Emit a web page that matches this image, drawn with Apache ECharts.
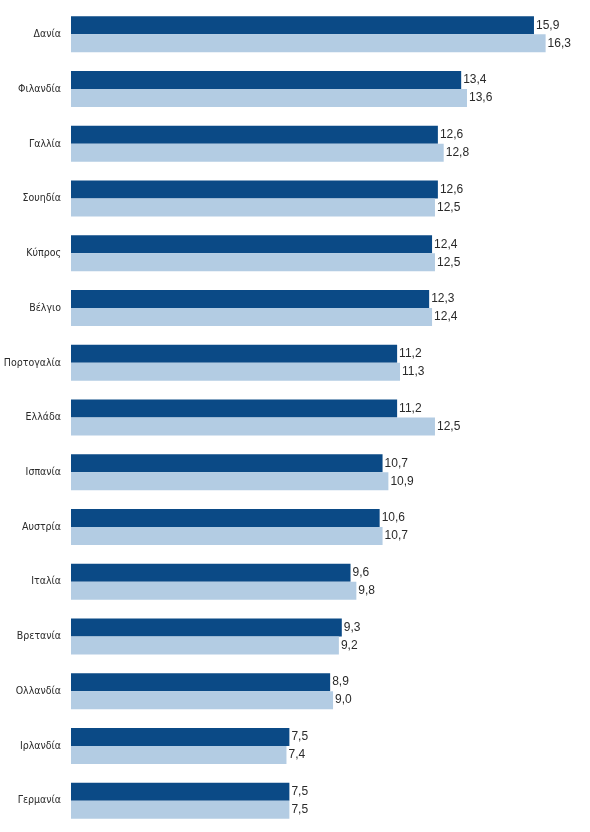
<!DOCTYPE html>
<html>
<head>
<meta charset="utf-8">
<script src="https://cdn.jsdelivr.net/npm/echarts@6/dist/echarts.min.js"></script>
<style>
html,body{margin:0;padding:0;background:#fff;}
#c{width:590px;height:832px;}
</style>
</head>
<body>
<div id="c"></div>
<script>
var categories = ["Δανία","Φιλανδία","Γαλλία","Σουηδία","Κύπρος","Βέλγιο","Πορτογαλία","Ελλάδα","Ισπανία","Αυστρία","Ιταλία","Βρετανία","Ολλανδία","Ιρλανδία","Γερμανία"];
var seriesDark = [15.9,13.4,12.6,12.6,12.4,12.3,11.2,11.2,10.7,10.6,9.6,9.3,8.9,7.5,7.5];
var seriesLight = [16.3,13.6,12.8,12.5,12.5,12.4,11.3,12.5,10.9,10.7,9.8,9.2,9.0,7.4,7.5];

var fmt = function(p){ return p.value.toFixed(1).replace('.', ','); };
var labelStyle = {show:true, position:'right', distance:2, formatter:fmt, fontSize:12, color:'#2a2a2a', fontFamily:'Liberation Sans, Arial, sans-serif'};

var chart = echarts.init(document.getElementById('c'), null, {renderer:'canvas'});
chart.setOption({
  animation:false,
  backgroundColor:'#fff',
  grid:{left:71, right:24, top:7, bottom:4, containLabel:false},
  xAxis:{type:'value', min:0, max:17, show:false},
  yAxis:{type:'category', data:categories, inverse:true,
    axisLine:{show:false}, axisTick:{show:false},
    axisLabel:{margin:10, fontSize:10.5, color:'#2a2a2a', fontFamily:'"DejaVu Sans Condensed", "Liberation Sans", sans-serif'}},
  series:[
    {type:'bar', data:seriesDark, barWidth:18, barGap:'0%', itemStyle:{color:'#0b4a86'}, label:labelStyle},
    {type:'bar', data:seriesLight, barWidth:18, barGap:'0%', itemStyle:{color:'#b3cce3'}, label:labelStyle}
  ]
});
</script>
</body>
</html>
